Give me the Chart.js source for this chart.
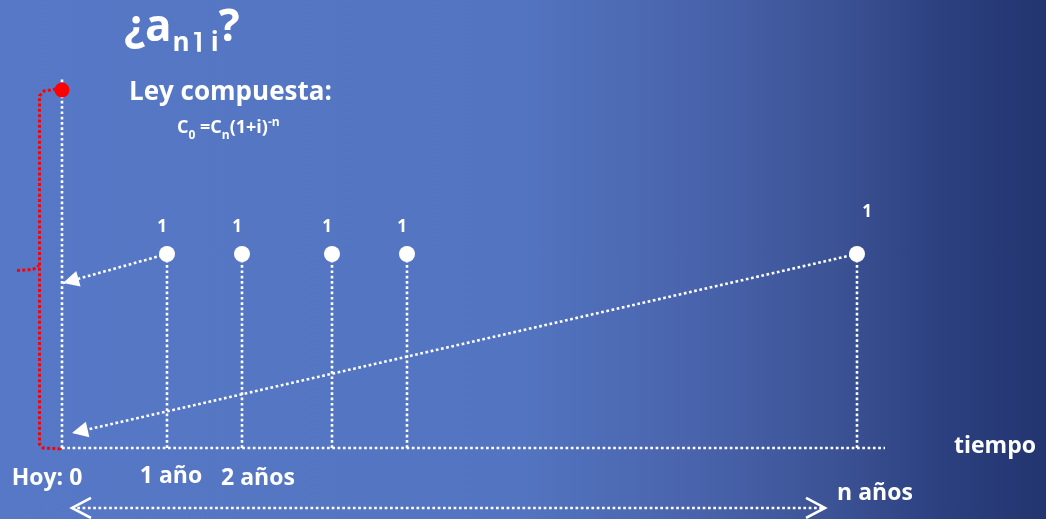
<!DOCTYPE html>
<html lang="es">
<head>
    <meta charset="UTF-8">
    <title>Valor actual de una renta</title>
    <script src="https://cdn.jsdelivr.net/npm/chart.js@4.4.1/dist/chart.umd.min.js"></script>
    <style>
        body {
            margin: 0;
            width: 1046px;
            height: 519px;
            overflow: hidden;
            position: relative;
            font-family: "Open Sans", Lato, sans-serif;
            color: #fff;
            background: linear-gradient(to right, #5778c6 0%, #5374c0 50%, #4862aa 68%, #3b5294 80%, #2c4080 90%, #233570 100%);
        }

        #grafico {
            position: absolute;
            left: 0;
            top: 0;
        }

        .texto {
            position: absolute;
            font-weight: bold;
            line-height: 1;
            white-space: nowrap;
        }

        #titulo {
            left: 124px;
            top: 2px;
            font-size: 44px;
        }

        #titulo .sub {
            position: relative;
            top: 10px;
            font-size: 26px;
            margin-left: 1px;
        }

        #titulo .ang {
            font-family: "DejaVu Sans", sans-serif;
            font-weight: bold;
            font-size: 22px;
            position: relative;
            top: -2px;
            margin: 0 8px 0 3px;
        }

        #ley {
            left: 129px;
            top: 77px;
            font-size: 26px;
        }

        #formula {
            left: 177px;
            top: 117px;
            font-size: 18px;
        }

        #formula .sub {
            position: relative;
            top: 6px;
            font-size: 12px;
        }

        #formula .sup {
            position: relative;
            top: -7px;
            font-size: 12px;
        }
    </style>
</head>
<body>

    <canvas id="grafico" width="1046" height="519"></canvas>

    <div class="texto" id="titulo">¿a<span class="sub">n<span class="ang">⌉</span>i</span>?</div>
    <div class="texto" id="ley">Ley compuesta:</div>
    <div class="texto" id="formula">C<span class="sub">0</span> =C<span class="sub">n</span>(1+i)<span class="sup">-n</span></div>

<script>
    // Datos (eje x en años, eje y en unidades monetarias)
    const xPagos = [1.05, 1.80, 2.70, 3.45, 7.95];   // momento de cada pago
    const pagos = [1, 1, 1, 1, 1];                    // cuantía de cada pago
    const etiquetasTiempo = ['Hoy: 0', '1 año', '2 años', 'n años'];
    const xEtiquetas = [-0.15, 1.09, 1.96, 8.13];
    const yEtiquetas = [-0.19, -0.18, -0.19, -0.27];
    const tituloEje = 'tiempo';
    const valorActual = 1.845;                        // punto rojo: a n¬i
    const finEje = 8.23;
    const altoEjeY = 1.912;

    // flechas de descuento: [x inicio, y inicio, x fin, y fin]
    const flechas = [
        [1.05, 1, 0.01, 0.85],
        [7.95, 1, 0.10, 0.077]
    ];
    const flechaDoble = [0.10, 7.63];
    const yFlechaDoble = -0.309;

    // llave roja que agrupa el valor actual
    const llaveX = [-0.06, -0.18, -0.225, -0.225, -0.19, 0];
    const llaveY = [1.85, 1.84, 1.815, 0.02, 0, -0.005];
    const picoX = [-0.45, -0.29, -0.23];
    const picoY = [0.915, 0.92, 0.94];

    const BLANCO = '#ffffff';
    const ROJO = '#ff0000';
    const punteado = [2.7, 2.6];
    const FUENTE = '"Open Sans", Lato, sans-serif';

    function puntos(xs, ys) {
        return xs.map((x, i) => ({ x: x, y: ys[i] }));
    }

    // Segmentos separados por un hueco (y: null) para una sola serie
    function segmentos(lista) {
        const out = [];
        lista.forEach(s => {
            out.push({ x: s[0], y: s[1] }, { x: s[2], y: s[3] }, { x: s[2], y: null });
        });
        return out;
    }

    const lineaBase = {
        type: 'line', pointRadius: 0, borderColor: BLANCO, borderWidth: 2.6,
        borderDash: punteado, fill: false, spanGaps: false, tension: 0
    };

    // Dibuja puntas de flecha al final de cada tramo
    const puntasFlecha = {
        id: 'puntasFlecha',
        afterDatasetsDraw(chart) {
            const ctx = chart.ctx;
            chart.data.datasets.forEach((ds, i) => {
                if (!ds.flecha) return;
                const pts = chart.getDatasetMeta(i).data;
                ctx.save();
                ctx.fillStyle = BLANCO;
                ctx.strokeStyle = BLANCO;
                ctx.lineWidth = 2.6;
                for (let k = 0; k + 1 < pts.length; k += 3) {
                    const a = pts[k], b = pts[k + 1];
                    if (ds.flecha === 'llena') {
                        const ang = Math.atan2(b.y - a.y, b.x - a.x);
                        ctx.beginPath();
                        ctx.moveTo(b.x, b.y);
                        ctx.lineTo(b.x - 16 * Math.cos(ang) + 8 * Math.sin(ang), b.y - 16 * Math.sin(ang) - 8 * Math.cos(ang));
                        ctx.lineTo(b.x - 16 * Math.cos(ang) - 8 * Math.sin(ang), b.y - 16 * Math.sin(ang) + 8 * Math.cos(ang));
                        ctx.closePath();
                        ctx.fill();
                    } else {
                        [[a, b], [b, a]].forEach(([p, q]) => {
                            const ang = Math.atan2(q.y - p.y, q.x - p.x);
                            ctx.beginPath();
                            ctx.moveTo(q.x - 19 * Math.cos(ang) + 10 * Math.sin(ang), q.y - 19 * Math.sin(ang) - 10 * Math.cos(ang));
                            ctx.lineTo(q.x, q.y);
                            ctx.lineTo(q.x - 19 * Math.cos(ang) - 10 * Math.sin(ang), q.y - 19 * Math.sin(ang) + 10 * Math.cos(ang));
                            ctx.stroke();
                        });
                    }
                }
                ctx.restore();
            });
        }
    };

    // Textos del gráfico: cuantías sobre los pagos y etiquetas del eje de tiempo
    const textos = {
        id: 'textos',
        afterDraw(chart) {
            const ctx = chart.ctx;
            const sx = chart.scales.x, sy = chart.scales.y;
            const meta = chart.getDatasetMeta(0);
            ctx.save();
            ctx.fillStyle = BLANCO;
            ctx.textAlign = 'center';
            ctx.textBaseline = 'alphabetic';

            ctx.font = 'bold 17px ' + FUENTE;
            meta.data.forEach((p, i) => {
                const ultimo = i === pagos.length - 1;
                ctx.fillText(String(pagos[i]), p.x + (ultimo ? 10 : -5), p.y - (ultimo ? 37 : 22));
            });

            ctx.font = 'bold 23px ' + FUENTE;
            etiquetasTiempo.forEach((t, i) => {
                ctx.fillText(t, sx.getPixelForValue(xEtiquetas[i]), sy.getPixelForValue(yEtiquetas[i]));
            });
            ctx.fillText(tituloEje, sx.getPixelForValue(9.33), sy.getPixelForValue(-0.026));
            ctx.restore();
        }
    };

    function crearGrafico() {
        new Chart(document.getElementById('grafico'), {
            type: 'line',
            data: {
                datasets: [
                    {
                        label: 'Pagos', data: puntos(xPagos, pagos), showLine: false,
                        pointRadius: 8, pointBackgroundColor: BLANCO, pointBorderWidth: 0
                    },
                    {
                        label: 'Valor actual', data: [{ x: 0, y: valorActual }], showLine: false,
                        pointRadius: 7.5, pointBackgroundColor: ROJO, pointBorderWidth: 0
                    },
                    Object.assign({}, lineaBase, {
                        label: 'Descuentos', data: segmentos(flechas), flecha: 'llena'
                    }),
                    Object.assign({}, lineaBase, {
                        label: 'Duración', data: segmentos([[flechaDoble[0], yFlechaDoble, flechaDoble[1], yFlechaDoble]]), flecha: 'abierta'
                    }),
                    Object.assign({}, lineaBase, {
                        label: 'Verticales', data: segmentos(xPagos.map((x, i) => [x, 0, x, pagos[i]]))
                    }),
                    Object.assign({}, lineaBase, {
                        label: 'Eje vertical', data: [{ x: 0, y: 0 }, { x: 0, y: altoEjeY }]
                    }),
                    Object.assign({}, lineaBase, {
                        label: 'Eje tiempo', data: [{ x: 0, y: 0 }, { x: finEje, y: 0 }]
                    }),
                    Object.assign({}, lineaBase, {
                        label: 'Llave', data: puntos(llaveX, llaveY), borderColor: ROJO,
                        borderWidth: 3, borderDash: [3, 2.3]
                    }),
                    Object.assign({}, lineaBase, {
                        label: 'Pico', data: puntos(picoX, picoY), borderColor: ROJO,
                        borderWidth: 3, borderDash: [3, 2.3]
                    })
                ]
            },
            options: {
                responsive: false,
                devicePixelRatio: 1,
                animation: false,
                layout: { padding: 0, autoPadding: false },
                plugins: { legend: { display: false }, tooltip: { enabled: false } },
                scales: {
                    x: { type: 'linear', min: -0.62, max: 9.84, display: false },
                    y: { type: 'linear', min: -0.366, max: 2.309, display: false }
                }
            },
            plugins: [puntasFlecha, textos]
        });
    }

    Promise.all([
        document.fonts.load('bold 17px "Open Sans"'),
        document.fonts.load('bold 23px "Open Sans"')
    ]).then(crearGrafico, crearGrafico);
</script>

</body>
</html>
